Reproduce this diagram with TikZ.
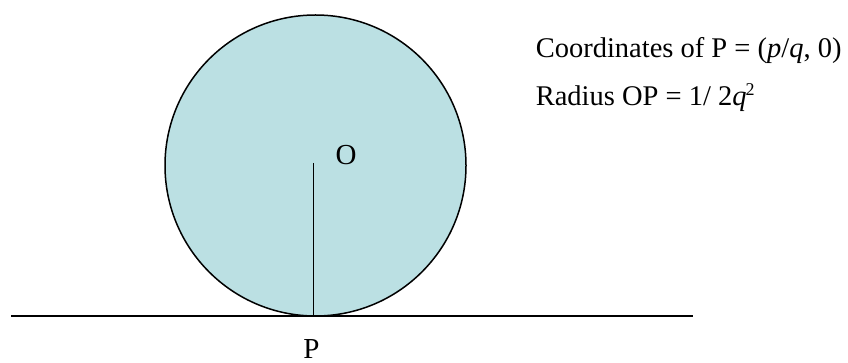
\documentclass[tikz,border=0pt]{standalone}
\usepackage{fontspec}
\setmainfont{Liberation Serif}
\begin{document}
\begin{tikzpicture}[x=1pt,y=-1pt,line width=1.5pt,
  lbl/.style={inner sep=0pt,text depth=0pt,font=\fontsize{29}{34}\selectfont,anchor=base},
  txt/.style={inner sep=0pt,font=\fontsize{28.5}{34}\selectfont,anchor=base west}]
\definecolor{disk}{RGB}{187,224,227}
\useasboundingbox (0,0) rectangle (848,363);
\coordinate (O) at (313.5,163);
\coordinate (P) at (313.5,316);
\coordinate (L) at (11,316);
\coordinate (R) at (693,316);
\node[circle,draw,fill=disk,minimum size=301pt,inner sep=0pt] (disk) at (315.5,165.5) {};
\draw (L) -- (R);
\draw (O) -- (P);
\node[lbl] (Olbl) at (346,164.5) {O};
\node[lbl] (Plbl) at (311.5,358) {P};
\node[txt] (t1) at (535,57.5) {Coordinates of P = (\textit{p}/\textit{q}, 0)};
\node[txt] (t2) at (535,105.5) {Radius OP = 1/ 2\textit{q}\kern-1pt\raisebox{10pt}{\fontsize{18}{18}\selectfont 2}};
\end{tikzpicture}
\end{document}
